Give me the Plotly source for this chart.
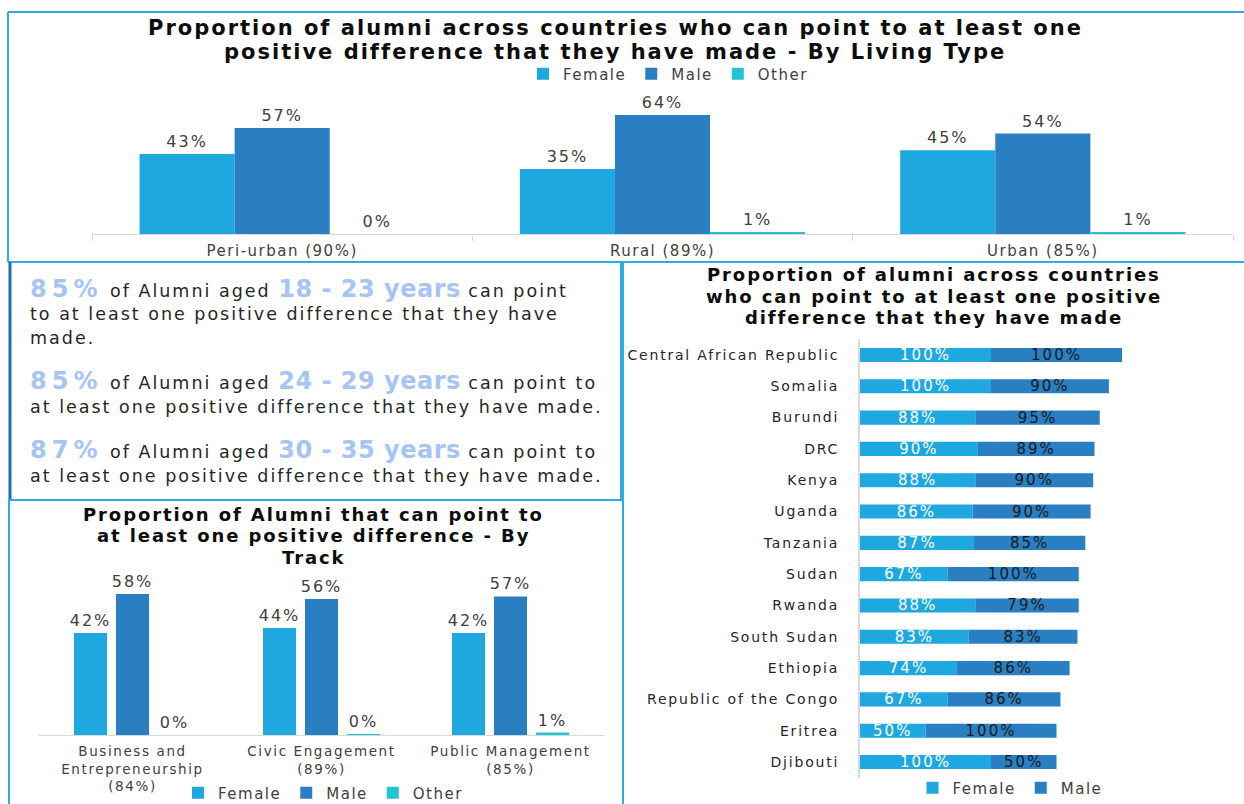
import plotly.graph_objects as go

W, H = 1244, 804
FONT = "DejaVu Sans"

# ---- data -------------------------------------------------------------
living_types = ["Peri-urban (90%)", "Rural (89%)", "Urban (85%)"]
living_female = [43, 35, 45]
living_male = [57, 64, 54]
living_other = [0, 1, 1]

tracks = ["Business and<br>Entrepreneurship<br>(84%)",
          "Civic Engagement<br>(89%)",
          "Public Management<br>(85%)"]
track_female = [42, 44, 42]
track_male = [58, 56, 57]
track_other = [0, 0.4, 1]

countries = ["Central African Republic", "Somalia", "Burundi", "DRC", "Kenya",
             "Uganda", "Tanzania", "Sudan", "Rwanda", "South Sudan", "Ethiopia",
             "Republic of the Congo", "Eritrea", "Djibouti"]
country_female = [100, 100, 88, 90, 88, 86, 87, 67, 88, 83, 74, 67, 50, 100]
country_male = [100, 90, 95, 89, 90, 90, 85, 100, 79, 83, 86, 86, 100, 50]

age_groups = ["18 - 23", "24 - 29", "30 - 35"]
age_pct = [85, 85, 87]

# ---- styling ------------------------------------------------------------
C_FEMALE = "#1fa8e0"
C_MALE = "#2a7fc3"
C_OTHER = "#22c4d4"
C_BORDER = "#2aaee3"
C_DARKBORDER = "#1b6fb8"
C_HIGHLIGHT = "#a6c4f4"
C_TEXT = "#262626"
C_LABEL = "#404040"


def px(x):
    return x / W


def py(y):
    return 1 - y / H


def spaced(s, ls, extra=""):
    """Wrap text in a span with wider letter spacing (a wide, geometric look)."""
    parts = s.split("<br>")
    return "<br>".join(f"<span style='letter-spacing:{ls}px;{extra}'>{p}</span>"
                       for p in parts)


def pct(v, ls=2):
    return spaced(f"{v:.0f}%", ls)


fig = go.Figure()

# ---- living type (grouped columns) -------------------------------------
lw, loff = 0.25, [-0.375, -0.125, 0.125]
for name, vals, col, off in [("Female", living_female, C_FEMALE, loff[0]),
                             ("Male", living_male, C_MALE, loff[1]),
                             ("Other", living_other, C_OTHER, loff[2])]:
    fig.add_trace(go.Bar(
        x=living_types, y=vals, name=spaced(name, 1.5), marker_color=col,
        marker_line_width=0, width=lw, offset=off, text=[pct(v) for v in vals],
        textposition="outside", constraintext="none",
        textfont=dict(family=FONT, size=16, color=C_LABEL),
        cliponaxis=False, xaxis="x", yaxis="y", legend="legend"))

# ---- track (grouped columns) -------------------------------------------
tw = 0.175
toff = [-0.222 - tw / 2, -tw / 2, 0.222 - tw / 2]
for name, vals, col, off in [("Female", track_female, C_FEMALE, toff[0]),
                             ("Male", track_male, C_MALE, toff[1]),
                             ("Other", track_other, C_OTHER, toff[2])]:
    fig.add_trace(go.Bar(
        x=tracks, y=vals, name=spaced(name, 1.5), marker_color=col,
        marker_line_width=0, width=tw, offset=off, text=[pct(v) for v in vals],
        textposition="outside", constraintext="none",
        textfont=dict(family=FONT, size=16, color=C_LABEL),
        cliponaxis=False, xaxis="x2", yaxis="y2", legend="legend2"))

# ---- countries (stacked horizontal bars) -------------------------------
fig.add_trace(go.Bar(
    y=countries, x=country_female, orientation="h", name=spaced("Female", 1.5),
    marker_color=C_FEMALE, marker_line_width=0, width=0.45,
    text=[pct(v) for v in country_female], textposition="inside",
    insidetextanchor="middle", constraintext="none",
    textfont=dict(family=FONT, size=15, color="white"),
    xaxis="x3", yaxis="y3", legend="legend3"))
fig.add_trace(go.Bar(
    y=countries, x=country_male, base=country_female, orientation="h",
    name=spaced("Male", 1.5), marker_color=C_MALE, marker_line_width=0, width=0.45,
    text=[pct(v) for v in country_male], textposition="inside",
    insidetextanchor="middle", constraintext="none",
    textfont=dict(family=FONT, size=15, color="#1a1a1a"),
    xaxis="x3", yaxis="y3", legend="legend3"))

# ---- axes --------------------------------------------------------------
axis_grey = "#d9d9d9"
fig.update_layout(
    xaxis=dict(domain=[px(92), px(1233)], range=[-0.5, 2.5], showline=True,
               linecolor=axis_grey, linewidth=1, ticks="outside", tickson="boundaries",
               ticklen=6, tickcolor=axis_grey, showgrid=False, zeroline=False,
               tickvals=living_types, ticktext=[spaced(t, 1.5) for t in living_types],
               ticklabelstandoff=3,
               tickfont=dict(family=FONT, size=15, color=C_LABEL), anchor="y"),
    yaxis=dict(domain=[py(234), py(104)], range=[0, 130 / 1.86], visible=False,
               anchor="x"),
    xaxis2=dict(domain=[px(38), px(605)], range=[-0.5, 2.5], showline=True,
                linecolor=axis_grey, linewidth=1, ticks="", showgrid=False,
                zeroline=False, tickvals=tracks,
                ticktext=[spaced(t, 1.6) for t in tracks], ticklabelstandoff=4,
                tickfont=dict(family=FONT, size=13.5, color=C_LABEL), anchor="y2"),
    yaxis2=dict(domain=[py(735), py(580)], range=[0, 155 / 2.43], visible=False,
                anchor="x2"),
    xaxis3=dict(domain=[px(860), px(1230)], range=[0, 370 / 1.31], visible=False,
                anchor="y3"),
    yaxis3=dict(domain=[py(777.7), py(339.3)], range=[13.5, -0.5], showline=True,
                linecolor=axis_grey, linewidth=2, ticks="", showgrid=False,
                zeroline=False, ticklabelstandoff=16, tickvals=countries,
                ticktext=[spaced(c, 1.8) for c in countries],
                tickfont=dict(family=FONT, size=14, color=C_TEXT), anchor="x3"),
)

# ---- legends -----------------------------------------------------------
def legend_at(x, y):
    return dict(orientation="h", x=px(x), y=py(y), xanchor="center",
                yanchor="middle", font=dict(family=FONT, size=15, color=C_LABEL),
                bgcolor="rgba(0,0,0,0)", itemwidth=30, traceorder="normal",
                tracegroupgap=0)


fig.update_layout(legend=legend_at(668, 74), legend2=legend_at(323, 793),
                  legend3=legend_at(1010, 788))

# ---- titles ------------------------------------------------------------
annotations = []


def title(lines, x, y0, dy, size, ls):
    for i, line in enumerate(lines):
        annotations.append(dict(
            text=f"<b>{spaced(line, ls)}</b>", x=px(x), y=py(y0 + i * dy),
            xref="paper", yref="paper", xanchor="center", yanchor="middle",
            showarrow=False, font=dict(family=FONT, size=size, color="#0d0d0d")))


title(["Proportion of alumni across countries who can point to at least one",
       "positive difference that they have made - By Living Type"],
      615, 28, 24, 21, 2)
title(["Proportion of alumni across countries",
       "who can point to at least one positive",
       "difference that they have made"], 934, 274, 22, 18, 1.9)
title(["Proportion of Alumni that can point to",
       "at least one positive difference - By",
       "Track"], 313, 514, 21.5, 18, 1.9)

# ---- age statements ------------------------------------------------------
def big(s, ls):
    return (f"<span style='font-size:24px;font-weight:bold;letter-spacing:{ls}px;"
            f"color:{C_HIGHLIGHT}'>{s}</span>")


def body(s):
    return f"<span style='letter-spacing:2px'>{s}</span>"


age_lines = []
for i, (grp, p) in enumerate(zip(age_groups, age_pct)):
    tail = " can point" if i == 0 else " can point to"
    head = (big(f"{p}%", 5) + body(" of Alumni aged ") + big(f"{grp} years", 0.5)
            + body(tail))
    if i == 0:
        age_lines.append([head,
                          body("to at least one positive difference that they have"),
                          body("made.")])
    else:
        age_lines.append([head,
                          body("at least one positive difference that they have made.")])

age_y = [[289, 314, 338], [381, 407], [450, 476]]
for lines, ys in zip(age_lines, age_y):
    for line, y in zip(lines, ys):
        annotations.append(dict(
            text=line, x=px(28), y=py(y), xref="paper", yref="paper",
            xanchor="left", yanchor="middle", showarrow=False,
            font=dict(family=FONT, size=17.5, color=C_TEXT)))

# ---- panel borders -----------------------------------------------------
def seg(x0, y0, x1, y1, color=C_BORDER, width=2):
    return dict(type="line", xref="paper", yref="paper", x0=px(x0), y0=py(y0),
                x1=px(x1), y1=py(y1), line=dict(color=color, width=width))


shapes = [
    seg(8, 12, W, 12), seg(8, 12, 8, 262), seg(8, 262, W, 262),
    seg(10, 262, 10, 500, C_DARKBORDER, 3), seg(621, 262, 621, 500),
    seg(8, 500, 622, 500),
    seg(9, 500, 9, H), seg(623, 262, 623, H),
]

fig.update_layout(
    barmode="overlay", width=W, height=H,
    margin=dict(l=0, r=0, t=0, b=0, autoexpand=False),
    paper_bgcolor="white", plot_bgcolor="rgba(0,0,0,0)",
    annotations=annotations, shapes=shapes, showlegend=True,
    font=dict(family=FONT),
)

fig.write_html("out.html")
